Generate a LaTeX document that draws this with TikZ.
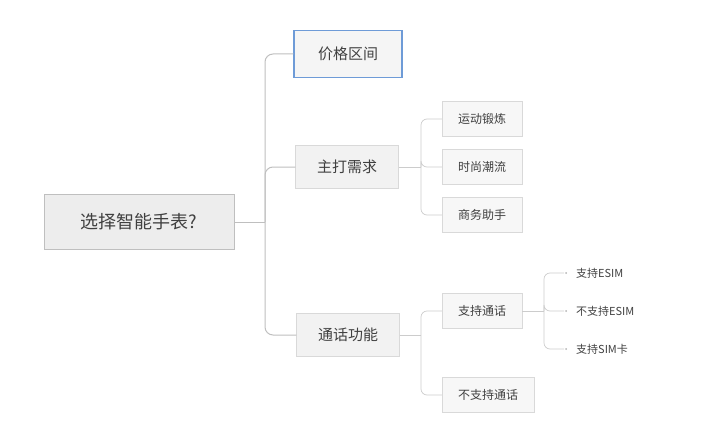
\documentclass[tikz,border=0pt]{standalone}
\usepackage{fontspec}
\setmainfont{Noto Sans CJK SC}
\usetikzlibrary{positioning}
\tikzset{
  rootbox/.style={draw=black!25, fill=black!7, line width=1pt, minimum width=190pt, minimum height=55pt, font=\fontsize{18}{20}\selectfont, text=black!75},
  midbox/.style={draw=black!15, fill=black!5, minimum height=43pt, minimum width=103pt, font=\fontsize{15}{17}\selectfont, text=black!75},
  leafbox/.style={draw=black!15, fill=black!3, minimum height=35pt, minimum width=80pt, font=\fontsize{12}{14}\selectfont, text=black!75},
  tip/.style={font=\fontsize{11}{13}\selectfont, text=black!75, anchor=west, inner sep=0pt},
  link/.style={draw=black!25, line width=1pt, rounded corners=8pt},
  thin link/.style={draw=black!20, line width=0.7pt, rounded corners=6pt}
}
\begin{document}
\begin{tikzpicture}[x=1pt,y=-1pt]
  \useasboundingbox (0,0) rectangle (704,436);

  % Root
  \node[rootbox] (root) at (139,222) {选择智能手表?};

  % Second level
  \node[midbox, draw={rgb,255:red,110;green,155;blue,215}, line width=1.5pt, fill=black!4, minimum height=47pt, minimum width=108pt] (price) at (348,54) {价格区间};
  \node[midbox] (need) at (347,167) {主打需求};
  \node[midbox] (call) at (348,335) {通话功能};

  % Third level
  \node[leafbox] (sport) at (482,119) {运动锻炼};
  \node[leafbox] (fashion) at (482,167) {时尚潮流};
  \node[leafbox] (biz) at (482,215) {商务助手};
  \node[leafbox] (yes) at (482,311) {支持通话};
  \node[leafbox, minimum width=92pt] (no) at (488,395) {不支持通话};

  % Fourth level
  \node[tip] (esim) at (576,273) {支持ESIM};
  \node[tip] (noesim) at (576,311) {不支持ESIM};
  \node[tip] (sim) at (576,349) {支持SIM卡};

  % Root -> second level
  \coordinate (r) at (265,222);
  \draw[link] (root.east) -- (r);
  \foreach \n in {price,need,call}
    \draw[link] (r) |- (\n.west);

  % Need -> leaves
  \coordinate (n) at (421,167);
  \draw[thin link] (need.east) -- (n);
  \foreach \n in {sport,fashion,biz}
    \draw[thin link] (n) |- (\n.west);

  % Call -> leaves
  \coordinate (c) at (421,335);
  \draw[thin link] (call.east) -- (c);
  \foreach \n in {yes,no}
    \draw[thin link] (c) |- (\n.west);

  % Yes -> tips
  \coordinate (y) at (544,311);
  \draw[thin link] (yes.east) -- (y);
  \foreach \n in {esim,noesim,sim} {
    \draw[thin link] (y) |- ([xshift=-12pt]\n.west);
    \fill[black!30] ([xshift=-10pt]\n.west) circle (1pt);
  }
\end{tikzpicture}
\end{document}
